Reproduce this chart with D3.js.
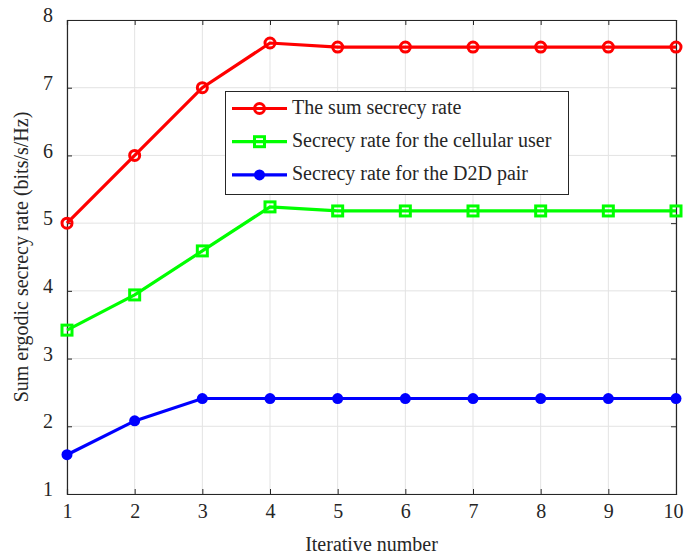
<!DOCTYPE html>
<html>
<head>
<meta charset="utf-8">
<script src="https://d3js.org/d3.v7.min.js"></script>
<style>
  body { margin: 0; background: #fff; }
  text { font-family: "Liberation Serif", "Times New Roman", serif; fill: #262626; }
</style>
</head>
<body>
<script>
// data
var iterations = [1, 2, 3, 4, 5, 6, 7, 8, 9, 10];
var sumRate = [5.0, 6.0, 7.0, 7.66, 7.6, 7.6, 7.6, 7.6, 7.6, 7.6];
var cellularRate = [3.42, 3.94, 4.59, 5.24, 5.18, 5.18, 5.18, 5.18, 5.18, 5.18];
var d2dRate = [1.58, 2.08, 2.41, 2.41, 2.41, 2.41, 2.41, 2.41, 2.41, 2.41];
var seriesNames = ['The sum secrecy rate', 'Secrecy rate for the cellular user', 'Secrecy rate for the D2D pair'];
var xTicks = [1, 2, 3, 4, 5, 6, 7, 8, 9, 10];
var yTicks = [1, 2, 3, 4, 5, 6, 7, 8];

var W = 684, H = 555;
var LEFT = 67, RIGHT = 676, TOP = 20, BOTTOM = 494;
var FONT = '20px';

var svg = d3.select('body').append('svg').attr('width', W).attr('height', H);

var x = d3.scaleLinear().domain([1, 10]).range([LEFT, RIGHT]);
var y = d3.scaleLinear().domain([1, 8]).range([BOTTOM, TOP]);

// grid
var grid = svg.append('g');
grid.selectAll('.gx').data(xTicks).enter().append('line')
  .attr('x1', d => x(d)).attr('x2', d => x(d)).attr('y1', TOP).attr('y2', BOTTOM)
  .attr('stroke', '#e3e3e3').attr('stroke-width', 1);
grid.selectAll('.gy').data(yTicks).enter().append('line')
  .attr('y1', d => y(d)).attr('y2', d => y(d)).attr('x1', LEFT).attr('x2', RIGHT)
  .attr('stroke', '#e3e3e3').attr('stroke-width', 1);

// axes (ticks inward, closed box)
var axisColor = '#262626';
var bottomAxis = d3.axisBottom(x).tickValues(xTicks).tickSize(-5).tickPadding(10).tickFormat(d3.format('d'));
var leftAxis = d3.axisLeft(y).tickValues(yTicks).tickSize(-5).tickPadding(14).tickFormat(d3.format('d'));
var topAxis = d3.axisTop(x).tickValues(xTicks).tickSize(-5).tickFormat('');
var rightAxis = d3.axisRight(y).tickValues(yTicks).tickSize(-5).tickFormat('');

function styleAxis(g) {
  g.selectAll('path').attr('stroke', axisColor).attr('stroke-width', 1.2);
  g.selectAll('line').attr('stroke', axisColor);
  g.selectAll('text').style('font-size', FONT).attr('fill', axisColor)
    .style('font-family', '"Liberation Serif", serif');
}
var gb = svg.append('g').attr('transform', 'translate(0,' + BOTTOM + ')').call(bottomAxis).call(styleAxis);
// keep the last label inside the window
gb.selectAll('text').filter(d => d === 10).attr('dx', '-3');
var gl = svg.append('g').attr('transform', 'translate(' + LEFT + ',0)').call(leftAxis).call(styleAxis);
gl.selectAll('text').attr('dy', '0.08em');
svg.append('g').attr('transform', 'translate(0,' + TOP + ')').call(topAxis).call(styleAxis);
svg.append('g').attr('transform', 'translate(' + RIGHT + ',0)').call(rightAxis).call(styleAxis);
svg.selectAll('.domain').attr('d', function() { return d3.select(this).attr('d').replace(/V-?5|V5/g, 'V0'); });

// axis labels
svg.append('text').attr('x', (LEFT + RIGHT) / 2).attr('y', 551).attr('text-anchor', 'middle')
  .style('font-size', FONT).text('Iterative number');
svg.append('text').attr('transform', 'translate(28,' + ((TOP + BOTTOM) / 2) + ') rotate(-90)')
  .attr('text-anchor', 'middle').style('font-size', FONT).text('Sum ergodic secrecy rate (bits/s/Hz)');

var line = d3.line().x((d, i) => x(iterations[i])).y(d => y(d));
var series = [
  { values: sumRate, color: '#ff0000', marker: 'circleOpen' },
  { values: cellularRate, color: '#00ff00', marker: 'square' },
  { values: d2dRate, color: '#0000ff', marker: 'dot' }
];

function drawMarker(g, type, color, cx, cy) {
  if (type === 'circleOpen') {
    g.append('circle').attr('cx', cx).attr('cy', cy).attr('r', 5)
      .attr('fill', 'none').attr('stroke', color).attr('stroke-width', 3);
  } else if (type === 'square') {
    g.append('rect').attr('x', cx - 5).attr('y', cy - 5).attr('width', 10).attr('height', 10)
      .attr('fill', 'none').attr('stroke', color).attr('stroke-width', 3);
  } else {
    g.append('circle').attr('cx', cx).attr('cy', cy).attr('r', 5.5).attr('fill', color);
  }
}

series.forEach(function(s) {
  var g = svg.append('g');
  g.append('path').datum(s.values).attr('d', line)
    .attr('fill', 'none').attr('stroke', s.color).attr('stroke-width', 3.2);
  s.values.forEach(function(v, i) { drawMarker(g, s.marker, s.color, x(iterations[i]), y(v)); });
});

// legend
var lg = svg.append('g');
lg.append('rect').attr('x', 225.5).attr('y', 91.5).attr('width', 343).attr('height', 103)
  .attr('fill', '#fff').attr('stroke', '#262626').attr('stroke-width', 1);
series.forEach(function(s, i) {
  var ly = 108.5 + i * 33.2;
  lg.append('line').attr('x1', 232).attr('x2', 287).attr('y1', ly).attr('y2', ly)
    .attr('stroke', s.color).attr('stroke-width', 3.2);
  drawMarker(lg, s.marker, s.color, 259.5, ly);
  lg.append('text').attr('x', 292).attr('y', ly + 5).style('font-size', FONT).attr('fill', '#000')
    .text(seriesNames[i]);
});
</script>
</body>
</html>
